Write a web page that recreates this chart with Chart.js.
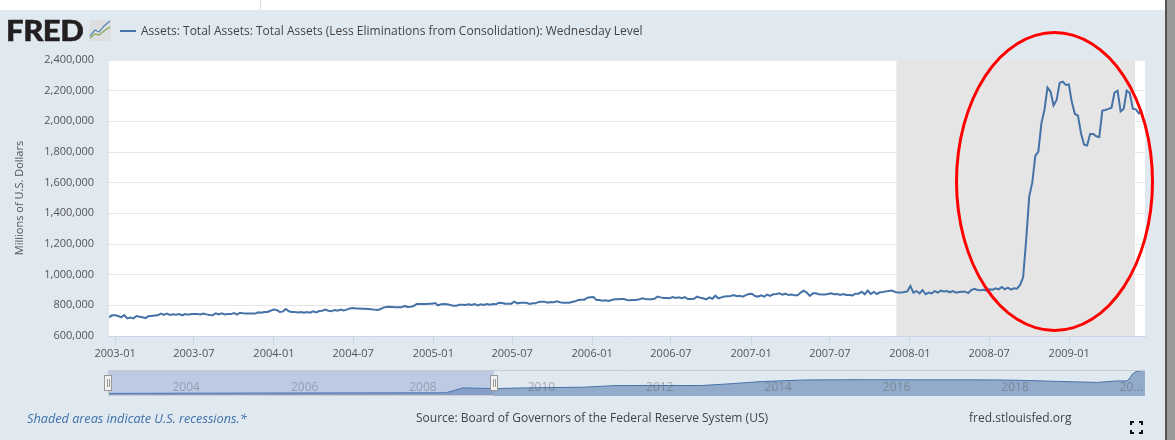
<!DOCTYPE html>
<html>
<head>
<meta charset="utf-8">
<title>FRED - Total Assets</title>
<script src="https://cdn.jsdelivr.net/npm/chart.js@4"></script>
<style>
  html,body{margin:0;padding:0;background:#fff;overflow:hidden}
  #page{position:absolute;left:0;top:10px;width:1165px;height:430px;background:#e1e9f0}
  #tab{position:absolute;left:260px;top:0;width:1px;height:10px;background:#d5dfe9}
  #bar{position:absolute;left:1165px;top:0;width:10px;height:440px;background:#999;border-left:2px solid #555;box-sizing:border-box}
  canvas{position:absolute;left:0}
  .t{position:absolute;font-family:"Open Sans",sans-serif;color:#444;font-size:12px;white-space:nowrap;line-height:16px}
  #logo{position:absolute;left:6px;top:14px;font:900 29px/32px Lato,sans-serif;color:#231f20;letter-spacing:-.4px;-webkit-text-stroke:.5px #231f20;transform:scaleX(1.07);transform-origin:left center}
  #ring{position:absolute;left:955px;top:31px;width:199px;height:301px;box-sizing:border-box;border:3px solid #f00;border-radius:50%}
  #key{position:absolute;left:120px;top:30px;width:16px;height:2px;background:#4572a7}
</style>
</head>
<body>
<div id="page"></div><div id="tab"></div><div id="bar"></div>
<canvas id="main" width="1175" height="365" style="top:0"></canvas>
<canvas id="nav" width="1175" height="75" style="top:365px"></canvas>

<div id="logo">FRED</div>
<svg style="position:absolute;left:89px;top:20px" width="22" height="21">
  <rect width="22" height="21" rx="2" fill="#dcdedf"/>
  <polyline points="1,16 6,10 10,12 15,6 21,1" fill="none" stroke="#5b86b3" stroke-width="1.2"/>
  <polyline points="1,18 6,14 10,15 15,11 21,7" fill="none" stroke="#86aa55" stroke-width="1.2"/>
</svg>
<div id="key"></div>
<div class="t" style="left:141px;top:23px">Assets: Total Assets: Total Assets (Less Eliminations from Consolidation): Wednesday Level</div>
<div class="t" style="left:27px;top:410px;color:#3f6fa8;font-style:italic;font-size:12.7px">Shaded areas indicate U.S. recessions.*</div>
<div class="t" style="left:416px;top:410px">Source: Board of Governors of the Federal Reserve System (US)</div>
<div class="t" style="left:969px;top:410px">fred.stlouisfed.org</div>
<svg style="position:absolute;left:1130px;top:421px" width="13" height="13" fill="none" stroke="#111" stroke-width="2">
  <path d="M1,4V1H4M9,1H12V4M12,9V12H9M4,12H1V9"/>
</svg>
<div id="ring"></div>

<script>
// weekly Wednesday level, first reading 2002-12-18
const firstWeek = '2002-12-18';
const assets = [
722000,735000,735000,730000,722000,737000,715000,720000,715000,730000,726000,722000,717000,730000,730000,733000,735000,746000,737000,746000,
737000,741000,739000,743000,735000,743000,739000,743000,743000,743000,741000,746000,741000,737000,735000,748000,741000,748000,741000,743000,
743000,750000,739000,752000,748000,746000,746000,746000,746000,754000,752000,757000,757000,765000,772000,770000,757000,759000,776000,761000,
757000,757000,754000,757000,752000,757000,752000,761000,754000,763000,765000,772000,765000,761000,770000,765000,772000,767000,772000,780000,
783000,780000,780000,778000,778000,776000,774000,772000,770000,774000,785000,789000,791000,789000,787000,787000,787000,796000,789000,791000,
796000,809000,809000,809000,809000,811000,811000,815000,800000,807000,809000,807000,802000,798000,798000,804000,804000,802000,807000,802000,
809000,800000,807000,802000,809000,804000,809000,807000,817000,815000,811000,811000,811000,824000,813000,817000,817000,817000,809000,813000,
813000,822000,824000,824000,817000,822000,820000,826000,820000,817000,817000,817000,822000,826000,835000,837000,837000,850000,852000,854000,
835000,835000,830000,833000,828000,835000,839000,839000,841000,841000,835000,833000,835000,835000,839000,846000,841000,839000,839000,843000,
857000,852000,848000,848000,846000,854000,848000,852000,846000,854000,841000,841000,843000,857000,850000,846000,839000,852000,843000,863000,
846000,852000,857000,859000,861000,867000,859000,863000,857000,867000,874000,876000,861000,857000,865000,857000,870000,861000,872000,874000,
878000,870000,876000,867000,870000,865000,865000,883000,896000,883000,861000,878000,878000,872000,870000,870000,874000,878000,872000,874000,
867000,874000,867000,867000,865000,876000,876000,889000,872000,896000,874000,887000,874000,885000,887000,891000,893000,896000,887000,883000,
883000,887000,891000,926000,883000,893000,878000,900000,872000,883000,878000,893000,883000,896000,891000,893000,885000,893000,883000,887000,
889000,889000,880000,900000,907000,900000,898000,902000,896000,904000,902000,911000,904000,920000,904000,915000,902000,911000,909000,933000,
983000,1226000,1509000,1600000,1775000,1802000,1987000,2074000,2220000,2193000,2104000,2139000,2252000,2259000,2237000,2241000,2124000,2048000,2037000,1922000,
1848000,1842000,1918000,1918000,1903000,1898000,2070000,2074000,2081000,2089000,2187000,2200000,2065000,2081000,2200000,2185000,2083000,2078000,2052000,2074000
];
const axisEnd = '2009-06-24';
const xTicks = ['2003-01','2003-07','2004-01','2004-07','2005-01','2005-07','2006-01','2006-07','2007-01','2007-07','2008-01','2008-07','2009-01'];
const yTicks = [600000,800000,1000000,1200000,1400000,1600000,1800000,2000000,2200000,2400000];
const recession = ['2007-12-01','2009-06-01'];

// navigator strip: whole history of the series, trillions
const navDates = ['2002-12-18','2005-01-05','2008-09-03','2008-12-17','2009-06-24','2010-01-06','2011-01-05','2011-07-06','2012-01-04','2012-12-26','2013-06-26','2014-01-01','2014-10-01','2015-07-01','2016-07-06','2017-07-05','2018-01-03','2018-06-27','2019-01-02','2019-09-04','2019-12-25','2020-02-26','2020-03-11','2020-04-08','2020-05-06','2020-06-24'];
const navValues = [0.72,0.80,0.90,2.25,2.05,2.25,2.45,2.87,2.92,2.90,3.40,4.00,4.45,4.50,4.48,4.47,4.44,4.30,4.05,3.76,4.16,4.17,4.30,6.10,6.90,7.10];
const navYears = ['2004','2006','2008','2010','2012','2014','2016','2018','20...'];
const navYearAt = ['2004-01-01','2006-01-01','2008-01-01','2010-01-01','2012-01-01','2014-01-01','2016-01-01','2018-01-01','2020-01-01'];

const ms = s => Date.parse(s + (s.length === 7 ? '-01' : '') + 'T00:00:00Z');
const WEEK = 7 * 864e5;
const tickFont = {family:"'Open Sans',sans-serif", size:11};
Chart.defaults.animation = false;

// ── Main chart ──
const plotDecor = {
  id:'plotDecor',
  beforeDraw(c){
    const a = c.chartArea;
    c.ctx.fillStyle = '#fff';
    c.ctx.fillRect(a.left, a.top, a.right - a.left, a.bottom - a.top);
  },
  beforeDatasetsDraw(c){
    const a = c.chartArea, x = c.scales.x;
    const l = x.getPixelForValue(ms(recession[0])), r = x.getPixelForValue(ms(recession[1]));
    c.ctx.fillStyle = '#e5e5e5';
    c.ctx.fillRect(l, a.top, r - l, a.bottom - a.top);
  }
};
new Chart(document.getElementById('main'),{
  type:'line',
  plugins:[plotDecor],
  data:{datasets:[{
    data:assets.map((v,i) => ({x:ms(firstWeek) + i * WEEK, y:v})),
    borderColor:'#4572a7', borderWidth:2, pointRadius:0, tension:0, fill:false
  }]},
  options:{
    responsive:false, devicePixelRatio:1, parsing:false, normalized:true,
    layout:{padding:{top:60,right:30,left:0,bottom:0}},
    plugins:{legend:{display:false},tooltip:{enabled:false}},
    scales:{
      x:{
        type:'linear', min:ms(firstWeek), max:ms(axisEnd),
        afterBuildTicks:s => { s.ticks = xTicks.map(t => ({value:ms(t)})); },
        afterFit:s => { s.height = 29; },
        grid:{drawOnChartArea:false, tickLength:9, tickColor:'#ccd6eb'},
        border:{color:'#ccd6eb'},
        ticks:{
          autoSkip:false, maxRotation:0, padding:2, color:'#555', font:tickFont,
          callback:v => xTicks[xTicks.findIndex(t => ms(t) === v)]
        }
      },
      y:{
        min:yTicks[0], max:yTicks[yTicks.length-1],
        afterBuildTicks:s => { s.ticks = yTicks.map(v => ({value:v})); },
        afterFit:s => { s.width = 109; },
        grid:{color:'#e6e6e6', drawTicks:false},
        border:{display:false},
        title:{display:true, text:'Millions of U.S. Dollars', color:'#555', font:tickFont, padding:{top:13,bottom:0}},
        ticks:{padding:15, color:'#555', font:tickFont, callback:v => v.toLocaleString('en-US')}
      }
    }
  }
});

// ── Navigator ──
const navDecor = {
  id:'navDecor',
  afterDatasetsDraw(c){
    const a = c.chartArea, x = c.scales.x, g = c.ctx;
    g.save();
    // year labels
    g.font = "12px 'Open Sans',sans-serif";
    g.fillStyle = 'rgba(90,90,90,.45)';
    g.textBaseline = 'middle';
    navYears.forEach((t,i) => g.fillText(t, x.getPixelForValue(ms(navYearAt[i])) + 3, a.top + 18));
    // selected range = the weeks shown in the main chart
    const l = x.getPixelForValue(ms(firstWeek)), r = x.getPixelForValue(ms(axisEnd));
    g.fillStyle = 'rgba(102,133,194,.3)';
    g.fillRect(l, a.top, r - l, a.bottom - a.top);
    g.strokeStyle = '#ccc';
    g.lineWidth = 1;
    g.beginPath();
    g.moveTo(a.left, a.top + .5); g.lineTo(a.right, a.top + .5);
    g.moveTo(l + .5, a.top); g.lineTo(l + .5, a.bottom);
    g.moveTo(l, a.bottom - .5); g.lineTo(r, a.bottom - .5);
    g.stroke();
    // handles
    [l, r].forEach(px => {
      const hx = Math.round(px) - 4;
      g.fillStyle = '#f2f2f2'; g.strokeStyle = '#999';
      g.fillRect(hx + .5, a.top + 5.5, 7, 15);
      g.strokeRect(hx + .5, a.top + 5.5, 7, 15);
      g.beginPath();
      g.moveTo(hx + 3.5, a.top + 9); g.lineTo(hx + 3.5, a.top + 17);
      g.moveTo(hx + 5.5, a.top + 9); g.lineTo(hx + 5.5, a.top + 17);
      g.stroke();
    });
    g.restore();
  }
};
new Chart(document.getElementById('nav'),{
  type:'line',
  plugins:[navDecor],
  data:{datasets:[{
    data:navValues.map((v,i) => ({x:ms(navDates[i]), y:v})),
    borderColor:'#4572a7', borderWidth:1, backgroundColor:'#92abcb', pointRadius:0, tension:0, fill:'start'
  }]},
  options:{
    responsive:false, devicePixelRatio:1, parsing:false,
    layout:{padding:{left:108,right:30,top:5,bottom:44}},
    plugins:{legend:{display:false},tooltip:{enabled:false}},
    scales:{
      x:{type:'linear', display:false, min:ms(navDates[0]), max:ms(navDates[navDates.length-1])},
      y:{display:false, min:0, max:7.2}
    }
  }
});
</script>
</body>
</html>
